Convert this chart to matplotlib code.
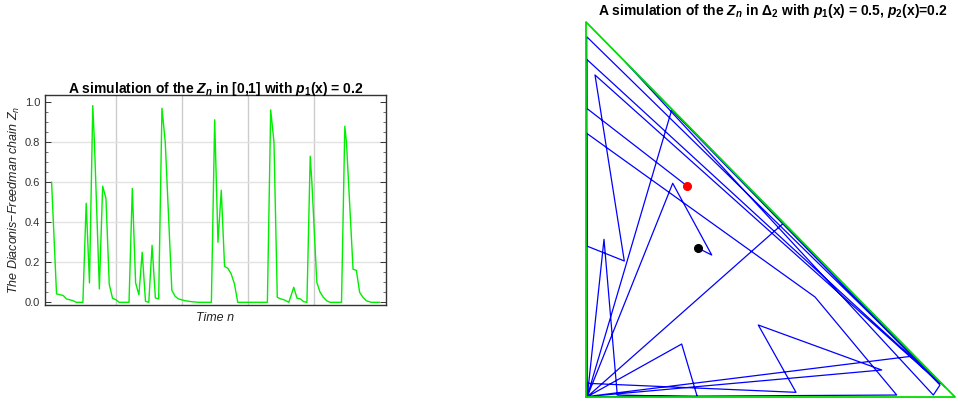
import matplotlib
matplotlib.use("Agg")
import matplotlib.pyplot as plt
from matplotlib.ticker import MultipleLocator, FixedLocator

plt.rcParams['font.family'] = ['Liberation Sans', 'DejaVu Sans']
plt.rcParams['mathtext.fontset'] = 'custom'
plt.rcParams['mathtext.rm'] = 'Liberation Sans'
plt.rcParams['mathtext.it'] = 'Liberation Sans:italic'
plt.rcParams['mathtext.bf'] = 'Liberation Sans:bold'
plt.rcParams['mathtext.bfit'] = 'Liberation Sans:bold:italic'

# ---------------- data: 1-D chain (vertices of the plotted line) ----------------
time_n = [1, 4, 8, 10, 14, 16, 20, 22, 24, 26, 27, 30, 32, 34, 36, 38, 40, 42, 48, 50,
          52, 54, 56, 58, 60, 62, 64, 66, 68, 70, 74, 76, 78, 82, 86, 90, 98, 100, 102, 104,
          106, 108, 110, 112, 114, 132, 134, 136, 138, 140, 142, 145, 148, 150, 152, 154, 156,
          158, 159, 162, 164, 166, 168, 170, 177, 179, 180, 184, 186, 188, 190, 192, 195, 200]
z_values = [0.60, 0.042, 0.034, 0.017, 0.008, 0.0, 0.0, 0.495, 0.097, 0.983, 0.80, 0.067,
            0.58, 0.52, 0.09, 0.02, 0.013, 0.0, 0.0, 0.569, 0.097, 0.037, 0.25, 0.005, 0.0,
            0.285, 0.022, 0.017, 0.97, 0.80, 0.06, 0.03, 0.017, 0.008, 0.003, 0.0, 0.0, 0.912,
            0.30, 0.56, 0.18, 0.17, 0.142, 0.092, 0.0, 0.0, 0.962, 0.80, 0.025, 0.017, 0.013,
            0.0, 0.075, 0.02, 0.017, 0.003, 0.0, 0.73, 0.60, 0.10, 0.05, 0.025, 0.008, 0.0,
            0.0, 0.88, 0.80, 0.165, 0.16, 0.05, 0.025, 0.008, 0.0, 0.0]
y_ticks = [0.0, 0.2, 0.4, 0.6, 0.8, 1.0]
y_tick_labels = ["0.0", "0.2", "0.4", "0.6", "0.8", "1.0"]
x_gridlines = [40, 80, 120, 160]

# ---------------- data: 2-D chain in the simplex ----------------
path_x = [0.2729, 0.0019, 0.0019, 0.9729, 0.1065, 0.9412, 0.9593, 0.2322, 0.0035, 0.0019,
          0.9593, 0.9458, 0.0244, 0.1038, 0.0019, 0.0019, 0.6206, 0.842, 0.0035, 0.5347,
          0.887, 0.0035, 0.8014, 0.4669, 0.5691, 0.0035, 0.0035, 0.2593, 0.3016, 0.0848,
          0.0488, 0.0035, 0.235, 0.3407, 0.3043]
path_y = [0.5635, 0.7699, 0.9608, 0.0264, 0.8933, 0.0053, 0.032, 0.7653, 0.0021, 0.9005,
          0.0365, 0.048, 0.8587, 0.3627, 0.4027, 0.7032, 0.2667, 0.0053, 0.0008, 0.4632,
          0.1093, 0.0013, 0.072, 0.192, 0.0125, 0.0365, 0.0008, 0.1413, 0.0008, 0.0053,
          0.4205, 0.0013, 0.5699, 0.3787, 0.3965]
simplex_x = [0, 1, 0, 0]
simplex_y = [0, 0, 1, 0]
red_point = (0.2729, 0.5635)
black_point = (0.3043, 0.3965)

fig = plt.figure(figsize=(9.58, 4.04), dpi=100)

# ---------------- left chart ----------------
ax = fig.add_axes([45/958, 1 - 305.3/404, 341/958, 210.3/404])
ax.plot(time_n, z_values, color='#00ee00', lw=1.0, zorder=3)
ax.set_xlim(-3, 204)
ax.set_ylim(-0.015, 1.036)
for gx in x_gridlines:
    ax.axvline(gx, color='#cccccc', lw=1.0, zorder=1)
for gy in y_ticks[1:-1]:
    ax.axhline(gy, color='#e3e3e3', lw=1.0, zorder=1)
ax.yaxis.set_major_locator(FixedLocator(y_ticks))
ax.set_yticklabels(y_tick_labels)
ax.yaxis.set_minor_locator(MultipleLocator(0.05))
ax.tick_params(axis='y', which='major', direction='in', length=4, width=0.7,
               colors='#333333', labelsize=8, labelcolor='#333333', right=True)
ax.tick_params(axis='y', which='minor', direction='in', length=2.2, width=0.5,
               colors='#333333', right=True)
ax.tick_params(axis='x', which='both', bottom=False, labelbottom=False)
for s in ax.spines.values():
    s.set_color('#333333')
    s.set_linewidth(1.0)
ax.set_title(r'A simulation of the $\mathbfit{Z_n}$ in [0,1] with $\mathbfit{p}_\mathbf{1}$(x) = 0.2',
             fontsize=10, fontweight='bold', pad=1.5)
ax.set_ylabel(r'The Diaconis$-$Freedman chain $Z_n$', fontsize=9, style='italic',
              color='#222222', labelpad=2)
ax.set_xlabel('Time n', fontsize=9, style='italic', color='#222222', labelpad=5)

# ---------------- right chart ----------------
ax2 = fig.add_axes([584/958, 1 - 399/404, 373/958, 379/404])
ax2.set_xlim(-0.0054, 1.0054)
ax2.set_ylim(-0.0053, 1.0053)
ax2.axis('off')
ax2.plot(path_x, path_y, color='#0000ff', lw=0.9, zorder=2, clip_on=False)
ax2.plot(simplex_x, simplex_y, color='#00dd00', lw=1.3, zorder=3, clip_on=False)
ax2.plot([red_point[0]], [red_point[1]], 'o', color='#ff0000', ms=5.5, zorder=4)
ax2.plot([black_point[0]], [black_point[1]], 'o', color='#000000', ms=5.5, zorder=4)
fig.text(773/958, 1 - 11/404,
         r'A simulation of the $\mathbfit{Z_n}$ in Δ$_\mathbf{2}$ with $\mathbfit{p}_\mathbf{1}$(x) = 0.5, $\mathbfit{p}_\mathbf{2}$(x)=0.2',
         ha='center', va='center', fontsize=10, fontweight='bold')

fig.savefig('out.png', dpi=100)
